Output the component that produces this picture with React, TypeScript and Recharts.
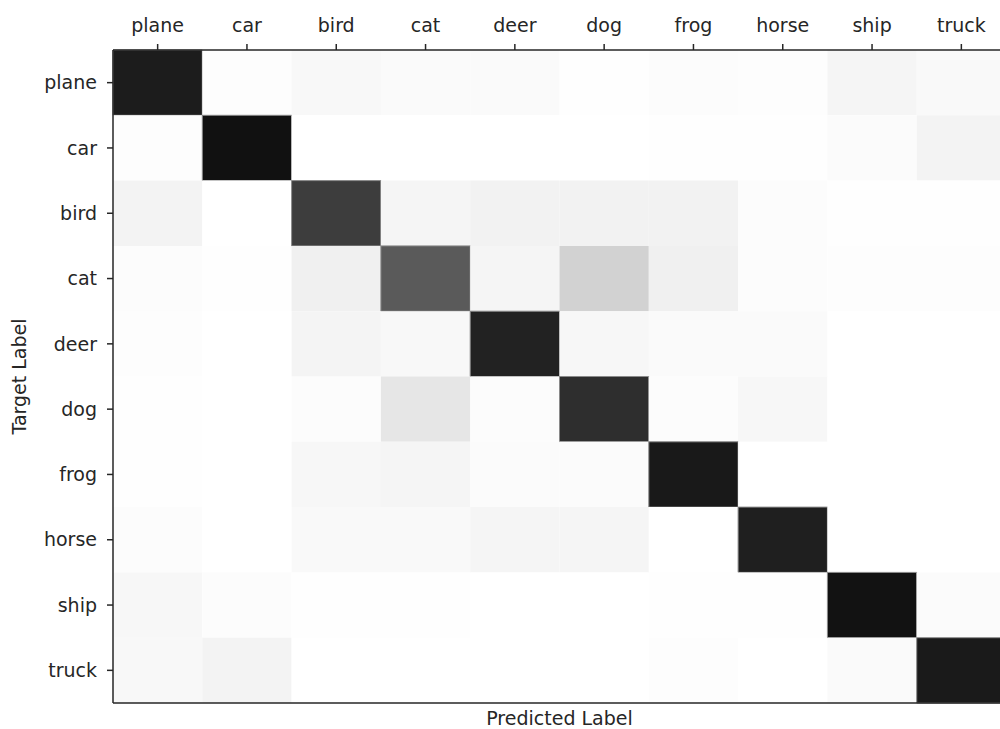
import { ComposedChart, Label, ReferenceArea, Scatter, XAxis, YAxis } from "recharts";

// class names (predicted = columns, target = rows)
const classes = ["plane", "car", "bird", "cat", "deer", "dog", "frog", "horse", "ship", "truck"];

// row-normalised confusion rates, one array per target label
const planeRow = [0.89, 0.008, 0.027, 0.02, 0.02, 0.004, 0.012, 0.008, 0.04, 0.024];
const carRow = [0.008, 0.933, 0.0, 0.0, 0.0, 0.0, 0.005, 0.005, 0.016, 0.047];
const birdRow = [0.048, 0.0, 0.76, 0.04, 0.05, 0.05, 0.05, 0.012, 0.002, 0.002];
const catRow = [0.012, 0.002, 0.06, 0.647, 0.04, 0.176, 0.06, 0.012, 0.008, 0.008];
const deerRow = [0.008, 0.0, 0.042, 0.028, 0.866, 0.03, 0.02, 0.02, 0.0, 0.0];
const dogRow = [0.005, 0.0, 0.012, 0.1, 0.012, 0.82, 0.01, 0.032, 0.0, 0.0];
const frogRow = [0.005, 0.0, 0.032, 0.04, 0.016, 0.014, 0.9, 0.0, 0.0, 0.0];
const horseRow = [0.01, 0.0, 0.022, 0.022, 0.04, 0.04, 0.0, 0.878, 0.0, 0.0];
const shipRow = [0.032, 0.01, 0.005, 0.005, 0.0, 0.0, 0.005, 0.005, 0.93, 0.016];
const truckRow = [0.028, 0.048, 0.0, 0.0, 0.0, 0.0, 0.008, 0.0, 0.02, 0.898];

const matrix = [planeRow, carRow, birdRow, catRow, deerRow, dogRow, frogRow, horseRow, shipRow, truckRow];

const centerTicks = classes.map((_, i) => i + 0.5);

// cell centres, so the axes have something to scale against
const cells = matrix.flatMap((row, r) => row.map((v, c) => ({ pred: c + 0.5, target: r + 0.5, v })));

const TEXT = "#262626";
const FONT = "DejaVu Sans";

// gray_r colormap, 0 -> white, 1 -> black
function gray(v: number) {
  const g = Math.round(255 * (1 - v));
  return `rgb(${g},${g},${g})`;
}

const labelFor = (v: number) => classes[Math.floor(v)] ?? "";

// eslint-disable-next-line @typescript-eslint/no-explicit-any
function YTitle({ viewBox }: any) {
  const { x, y, height } = viewBox;
  const cx = x + 26;
  const cy = y + height / 2;
  return (
    <text
      x={cx}
      y={cy}
      transform={`rotate(-90, ${cx}, ${cy})`}
      textAnchor="middle"
      fill={TEXT}
      fontSize={19}
      fontFamily={FONT}
    >
      Target Label
    </text>
  );
}

// eslint-disable-next-line @typescript-eslint/no-explicit-any
function XTitle({ viewBox }: any) {
  const { x, y, width } = viewBox;
  return (
    <text x={x + width / 2} y={y + 22} textAnchor="middle" fill={TEXT} fontSize={19} fontFamily={FONT}>
      Predicted Label
    </text>
  );
}

export default function App() {
  const tick = { fill: TEXT, fontSize: 19, fontFamily: FONT };
  const line = { stroke: TEXT, strokeWidth: 1.5 };
  return (
    <div
      style={{
        position: "absolute",
        left: 0,
        top: 0,
        width: 1000,
        height: 729,
        overflow: "hidden",
        background: "#fff",
      }}
    >
      <ComposedChart width={1010} height={729} margin={{ top: 6, right: 4, bottom: 0, left: 0 }}>
        <XAxis
          xAxisId="top"
          orientation="top"
          dataKey="pred"
          type="number"
          domain={[0, 10]}
          allowDataOverflow
          ticks={centerTicks}
          interval={0}
          tickFormatter={labelFor}
          height={44}
          tickSize={6}
          tickMargin={12}
          tick={tick}
          axisLine={line}
          tickLine={line}
        />
        <XAxis
          xAxisId="bottom"
          orientation="bottom"
          dataKey="pred"
          type="number"
          domain={[0, 10]}
          allowDataOverflow
          ticks={centerTicks}
          interval={0}
          height={26}
          tickSize={6}
          tick={false}
          axisLine={line}
          tickLine={line}
        >
          <Label content={<XTitle />} />
        </XAxis>
        <YAxis
          dataKey="target"
          type="number"
          domain={[0, 10]}
          allowDataOverflow
          reversed
          ticks={centerTicks}
          interval={0}
          tickFormatter={labelFor}
          width={113}
          tickSize={6}
          tickMargin={10}
          tick={tick}
          axisLine={line}
          tickLine={line}
        >
          <Label content={<YTitle />} />
        </YAxis>
        {matrix.map((row, r) =>
          row.map((v, c) => (
            <ReferenceArea
              key={`${r}-${c}`}
              xAxisId="top"
              x1={c}
              x2={c + 1}
              y1={r}
              y2={r + 1}
              fill={gray(v)}
              fillOpacity={1}
              stroke={v > 0.5 ? "#8a8a8a" : "none"}
              strokeWidth={1}
            />
          ))
        )}
        <Scatter
          data={cells}
          xAxisId="top"
          dataKey="target"
          isAnimationActive={false}
          shape={() => <g />}
        />
        <Scatter
          data={cells}
          xAxisId="bottom"
          dataKey="target"
          isAnimationActive={false}
          shape={() => <g />}
        />
      </ComposedChart>
    </div>
  );
}
